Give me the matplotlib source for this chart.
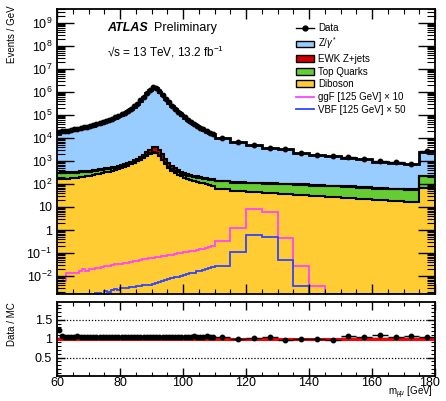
import matplotlib
matplotlib.use("Agg")
import matplotlib.pyplot as plt
import numpy as np
from matplotlib.lines import Line2D
from matplotlib.patches import Patch
from matplotlib.ticker import MultipleLocator, LogLocator, FuncFormatter, NullFormatter

plt.rcParams["font.family"] = ["Liberation Sans", "DejaVu Sans"]
plt.rcParams["mathtext.fontset"] = "custom"
plt.rcParams["mathtext.rm"] = "Liberation Sans"
plt.rcParams["mathtext.it"] = "Liberation Sans:italic"
plt.rcParams["mathtext.bf"] = "Liberation Sans:bold"

# bin edges: 1 GeV bins up to 110, then 5 GeV bins
edges = np.concatenate([np.arange(60, 110), np.arange(110, 181, 5)])

# events / GeV
data = [1.82e4, 1.91e4, 2.00e4, 2.09e4, 2.24e4, 2.34e4, 2.51e4, 2.69e4, 2.88e4, 3.09e4,
        3.31e4, 3.63e4, 3.98e4, 4.37e4, 4.79e4, 5.37e4, 6.03e4, 6.92e4, 7.94e4, 9.12e4,
        1.07e5, 1.26e5, 1.51e5, 1.86e5, 2.34e5, 3.09e5, 4.27e5, 6.17e5, 9.12e5, 1.26e6,
        1.58e6, 1.48e6, 1.07e6, 7.24e5, 4.90e5, 3.47e5, 2.51e5, 1.86e5, 1.38e5, 1.05e5,
        7.94e4, 6.31e4, 5.01e4, 4.07e4, 3.31e4, 2.75e4, 2.34e4, 2.00e4, 1.70e4, 1.48e4,
        1.0e4, 6.9e3, 5.0e3, 3.8e3, 3.2e3, 2.3e3, 1.86e3, 1.66e3, 1.45e3, 1.23e3,
        1.02e3, 870, 760, 2.7e3]

# data / MC in the lower panel
ratio = [1.24, 1.07, 1.05, 1.04, 1.05, 1.04, 1.06, 1.04, 1.05, 1.03,
         1.04, 1.05, 1.03, 1.04, 1.04, 1.03, 1.04, 1.05, 1.03, 1.04,
         1.03, 1.04, 1.03, 1.04, 1.03, 1.03, 1.04, 1.03, 1.03, 1.04,
         1.03, 1.03, 1.04, 1.03, 1.04, 1.03, 1.05, 1.04, 1.03, 1.04,
         1.05, 1.03, 1.04, 1.06, 1.04, 1.03, 1.05, 1.06, 1.04, 1.03,
         1.04, 1.00, 1.02, 1.03, 0.97, 1.00, 1.00, 0.97, 1.07, 1.04,
         1.10, 1.04, 1.08, 1.05]

mc_err = [0.03] + [0.006] * 49 + [0.01, 0.012, 0.015, 0.015, 0.02, 0.02, 0.025,
                                  0.025, 0.03, 0.03, 0.03, 0.035, 0.035, 0.03]

diboson = [160, 162, 166, 170, 174, 182, 190, 200, 209, 219,
           229, 245, 263, 282, 302, 324, 347, 372, 407, 447,
           490, 550, 617, 708, 813, 955, 1150, 1380, 1700, 2040,
           2290, 2140, 1580, 1050, 710, 500, 380, 302, 251, 214,
           186, 166, 148, 135, 123, 112, 105, 95, 89, 83,
           63, 50, 44, 39, 35, 32, 30, 27, 25, 22, 20, 19, 17, 65]

top = [135, 133, 131, 130, 128, 126, 125, 123, 122, 120,
       118, 117, 115, 113, 112, 110, 108, 106, 104, 102,
       100, 98, 96, 94, 92, 90, 88, 86, 84, 82,
       80, 78, 77, 76, 75, 74, 72, 71, 70, 69,
       68, 67, 67, 66, 66, 65, 65, 64, 64, 64,
       66, 64, 62, 61, 60, 58, 55, 52, 49, 46, 43, 40, 38, 160]

ewk = [20, 21, 22, 23, 24, 25, 26, 27, 28, 30,
       32, 34, 36, 39, 42, 46, 50, 56, 63, 72,
       82, 95, 112, 135, 165, 210, 280, 400, 620, 1000,
       1700, 1800, 1300, 800, 450, 260, 160, 110, 80, 62,
       50, 42, 36, 31, 27, 24, 21, 19, 17, 15,
       12, 10, 8, 7, 6, 5.5, 5, 4.5, 4, 3.5, 3.2, 3, 2.8, 6]

ggf_x10 = [0.008, 0.008, 0.0063, 0.013, 0.013, 0.014, 0.014, 0.016, 0.021, 0.016,
           0.020, 0.021, 0.022, 0.023, 0.025, 0.026, 0.027, 0.030, 0.032, 0.033,
           0.034, 0.037, 0.038, 0.042, 0.043, 0.046, 0.050, 0.053, 0.056, 0.059,
           0.062, 0.066, 0.070, 0.073, 0.077, 0.081, 0.086, 0.091, 0.096, 0.10,
           0.107, 0.114, 0.120, 0.128, 0.136, 0.145, 0.155, 0.167, 0.18, 0.21,
           0.35, 1.17, 7.9, 6.3, 0.46, 0.027, 0.0038, 0, 0, 0, 0, 0, 0, 0]

vbf_x50 = [0, 0, 0, 0, 0, 0, 0, 0, 0, 0,
           0, 0, 0.0019, 0.0019, 0.0017, 0.0022, 0.0021, 0.0025, 0.0027, 0.0026,
           0.0029, 0.0030, 0.0031, 0.0033, 0.0034, 0.0036, 0.0037, 0.0039, 0.0040, 0.0042,
           0.0045, 0.005, 0.0055, 0.006, 0.0066, 0.0072, 0.008, 0.0088, 0.0095, 0.0102,
           0.011, 0.012, 0.013, 0.014, 0.016, 0.017, 0.019, 0.021, 0.022, 0.024,
           0.027, 0.107, 0.6, 0.48, 0.05, 0.0037, 0, 0, 0, 0, 0, 0, 0, 0]

data = np.array(data)
ratio = np.array(ratio)
mc_total = data / ratio
s_dib = np.array(diboson, dtype=float)
s_top = s_dib + np.array(top)
s_ewk = s_top + np.array(ewk)

centers = 0.5 * (edges[1:] + edges[:-1])
halfw = 0.5 * (edges[1:] - edges[:-1])

c_z = "#99ccff"
c_ewk = "#cc0000"
c_top = "#66cc33"
c_dib = "#ffcc33"
c_ggf = "#ff44ff"
c_vbf = "#3344ff"

ymin, ymax = 1.66e-3, 4e9

fig = plt.figure(figsize=(4.46, 4.01), dpi=100)
ax = fig.add_axes([57/446, 1-294/401, 378/446, 285/401])
axr = fig.add_axes([57/446, 1-376/401, 378/446, 74/401])

# stack, drawn from the top layer down
for vals, col in [(mc_total, c_z), (s_ewk, c_ewk), (s_top, c_top), (s_dib, c_dib)]:
    ax.stairs(vals, edges, fill=True, color=col, baseline=1e-4, lw=0)
for vals, lw in [(mc_total, 2.0), (s_ewk, 1.5), (s_top, 1.5), (s_dib, 1.5)]:
    ax.stairs(vals, edges, baseline=None, color="black", lw=lw)

ggf_plot = np.where(np.array(ggf_x10) > 0, ggf_x10, ymin)
vbf_plot = np.where(np.array(vbf_x50) > 0, vbf_x50, ymin)
ax.stairs(ggf_plot, edges, baseline=None, color=c_ggf, lw=1.3)
ax.stairs(vbf_plot, edges, baseline=None, color=c_vbf, lw=1.3)

ax.errorbar(centers, data, xerr=halfw, fmt="o", color="black", ms=3.2, lw=1, capsize=0)

ax.set_yscale("log")
ax.set_xlim(60, 180)
ax.set_ylim(ymin, ymax)
ax.yaxis.set_major_locator(LogLocator(base=10, numticks=20))
ax.yaxis.set_minor_locator(LogLocator(base=10, subs=np.arange(2, 10), numticks=20))


def log_fmt(v, pos):
    e = int(round(np.log10(v)))
    if e == 0:
        return "1"
    if e == 1:
        return "10"
    return r"10$^{%d}$" % e


ax.yaxis.set_major_formatter(FuncFormatter(log_fmt))
ax.yaxis.set_minor_formatter(NullFormatter())
ax.xaxis.set_major_locator(MultipleLocator(20))
ax.xaxis.set_minor_locator(MultipleLocator(5))
ax.tick_params(axis="x", labelbottom=False)

for a in (ax, axr):
    a.tick_params(which="both", direction="in", top=True, right=True, labelsize=9)
    for s in a.spines.values():
        s.set_linewidth(1.3)
ax.tick_params(axis="y", which="major", length=12, width=1)
ax.tick_params(axis="y", which="minor", length=6, width=0.8)
ax.tick_params(axis="x", which="major", length=7, width=1)
ax.tick_params(axis="x", which="minor", length=3.5, width=0.8)

# ratio panel
axr.bar(centers, 2 * np.array(mc_err), bottom=1 - np.array(mc_err), width=2 * halfw,
        color="#8ccfcf", lw=0)
axr.axhline(1.5, color="black", ls=(0, (1, 1.5)), lw=0.9)
axr.axhline(0.5, color="black", ls=(0, (1, 1.5)), lw=0.9)
axr.axhline(1.0, color="red", lw=2.2)
axr.errorbar(centers, ratio, xerr=halfw, yerr=0.01, fmt="o", color="black", ms=3.2,
             lw=1, capsize=0)
axr.set_xlim(60, 180)
axr.set_ylim(0.01, 1.97)
axr.xaxis.set_major_locator(MultipleLocator(20))
axr.xaxis.set_minor_locator(MultipleLocator(5))
# last label is nudged left, like ROOT does at the frame edge
axr.xaxis.set_major_formatter(FuncFormatter(lambda v, p: "" if v >= 180 else "%d" % v))
axr.text(178.4, -0.015, "180", transform=axr.get_xaxis_transform(), ha="center",
         va="top", fontsize=9)
axr.yaxis.set_major_locator(MultipleLocator(0.5))
axr.yaxis.set_minor_locator(MultipleLocator(0.1))
axr.yaxis.set_major_formatter(FuncFormatter(lambda v, p: "%g" % v))
axr.tick_params(axis="y", which="major", length=6, width=1)
axr.tick_params(axis="y", which="minor", length=3, width=0.8)
axr.tick_params(axis="x", which="major", length=6, width=1, pad=1)
axr.tick_params(axis="x", which="minor", length=3, width=0.8)

# labels
fig.text(12/446, 1-5/401, "Events / GeV", rotation=90, ha="center", va="top", fontsize=7)
fig.text(12/446, 1-302/401, "Data / MC", rotation=90, ha="center", va="top", fontsize=7)
fig.text(433/446, 1-395.5/401, r"m$_{\mu\mu}$ [GeV]", ha="right", va="baseline", fontsize=7)

fig.text(107/446, 1-28/401, "ATLAS", fontsize=9, fontweight="bold", style="italic",
         ha="left", va="center")
fig.text(154/446, 1-28/401, "Preliminary", fontsize=9, ha="left", va="center")
fig.text(107/446, 1-52/401, "\u221as = 13 TeV, 13.2 fb$^{-1}$", fontsize=8.5,
         ha="left", va="center")

handles = [
    Line2D([], [], color="black", marker="o", ms=3.5, lw=1),
    Patch(facecolor=c_z, edgecolor="black", lw=1),
    Patch(facecolor=c_ewk, edgecolor="black", lw=1),
    Patch(facecolor=c_top, edgecolor="black", lw=1),
    Patch(facecolor=c_dib, edgecolor="black", lw=1),
    Line2D([], [], color=c_ggf, lw=1.3),
    Line2D([], [], color=c_vbf, lw=1.3),
]
labels = ["Data", r"Z/$\gamma^{*}$", "EWK Z+jets", "Top Quarks", "Diboson",
          "ggF [125 GeV] \u00d7 10", "VBF [125 GeV] \u00d7 50"]
fig.legend(handles, labels, loc="upper left", bbox_to_anchor=(296/446, 1-23/401),
           frameon=False, fontsize=7, handlelength=1.9, handletextpad=0.35,
           labelspacing=0.27, borderpad=0, borderaxespad=0)

fig.savefig("out.png", dpi=100)
